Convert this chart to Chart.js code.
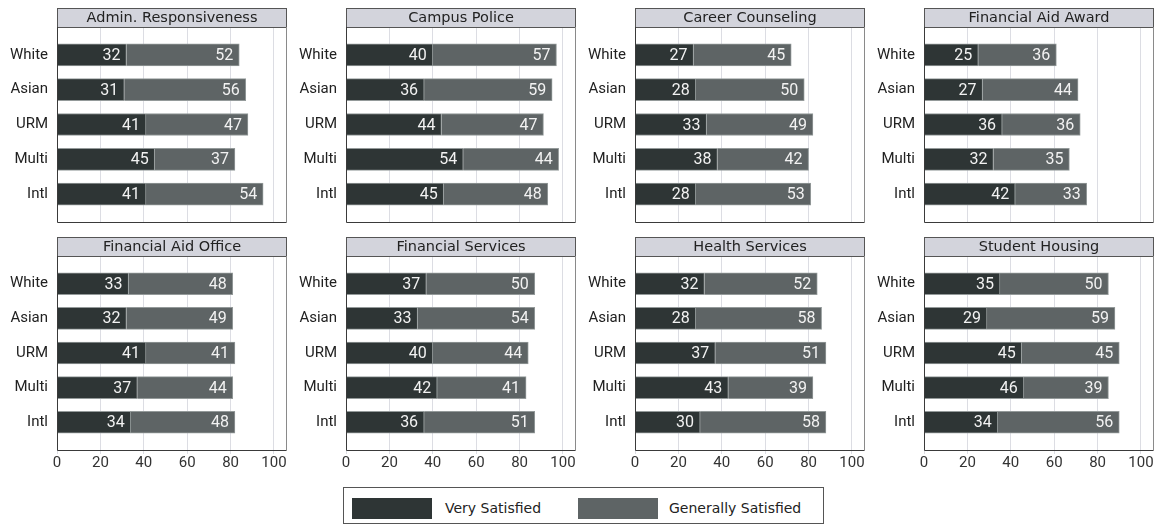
<!DOCTYPE html>
<html lang="en">

<head>
    <meta charset="UTF-8">
    <title>Satisfaction by Group</title>
    <script src="https://cdn.jsdelivr.net/npm/chart.js"></script>
    <style>
        body {
            margin: 0;
            background: white;
        }

        #page {
            position: relative;
            width: 1160px;
            height: 525px;
            overflow: hidden;
        }

        .panel {
            position: absolute;
        }

        .legend {
            position: absolute;
            left: 343px;
            top: 487px;
            width: 479px;
            height: 35px;
            border: 1px solid #555;
            font-family: 'DejaVu Sans', sans-serif;
            font-size: 14px;
            color: #222;
        }

        .legend .sw {
            position: absolute;
            top: 10px;
            width: 80px;
            height: 21px;
        }

        .legend .lbl {
            position: absolute;
            top: 10px;
            line-height: 21px;
        }
    </style>
</head>

<body>
    <div id="page">
        <div class="legend">
            <div class="sw" style="left: 8px; background: #2e3535;"></div>
            <div class="lbl" style="left: 101px;">Very Satisfied</div>
            <div class="sw" style="left: 234px; background: #5e6465;"></div>
            <div class="lbl" style="left: 325px;">Generally Satisfied</div>
        </div>
    </div>

    <script>
        const categories = ["White", "Asian", "URM", "Multi", "Intl"];
        const seriesNames = ["Very Satisfied", "Generally Satisfied"];
        const panelTitles = [
            "Admin. Responsiveness", "Campus Police", "Career Counseling", "Financial Aid Award",
            "Financial Aid Office", "Financial Services", "Health Services", "Student Housing"
        ];
        const verySatisfied = [
            [32, 31, 41, 45, 41],
            [40, 36, 44, 54, 45],
            [27, 28, 33, 38, 28],
            [25, 27, 36, 32, 42],
            [33, 32, 41, 37, 34],
            [37, 33, 40, 42, 36],
            [32, 28, 37, 43, 30],
            [35, 29, 45, 46, 34]
        ];
        const generallySatisfied = [
            [52, 56, 47, 37, 54],
            [57, 59, 47, 44, 48],
            [45, 50, 49, 42, 53],
            [36, 44, 36, 35, 33],
            [48, 49, 41, 44, 48],
            [50, 54, 44, 41, 51],
            [52, 58, 51, 39, 58],
            [50, 59, 45, 39, 56]
        ];
        const xTicks = [0, 20, 40, 60, 80, 100];

        const colors = ["#2e3535", "#5e6465"];
        const plotLefts = [57, 346, 635, 924];

        // title strip + frame around the plot area
        const panelFrame = {
            id: 'panelFrame',
            afterDraw(chart, args, opts) {
                const ctx = chart.ctx;
                const a = chart.chartArea;
                ctx.save();
                ctx.fillStyle = '#d3d4dc';
                ctx.fillRect(a.left, a.top - 19, a.right - a.left, 19);
                ctx.strokeStyle = '#555';
                ctx.lineWidth = 1;
                ctx.strokeRect(a.left + 0.5, a.top - 18.5, a.right - a.left - 1, 19);
                ctx.fillStyle = '#222';
                ctx.font = '14.5px "DejaVu Sans"';
                ctx.textAlign = 'center';
                ctx.textBaseline = 'middle';
                ctx.fillText(opts.text, (a.left + a.right) / 2, a.top - 9);

                ctx.beginPath();
                ctx.strokeStyle = '#3a3a3a';
                ctx.moveTo(a.left + 0.5, a.top);
                ctx.lineTo(a.left + 0.5, a.bottom + 0.5);
                ctx.lineTo(a.right, a.bottom + 0.5);
                ctx.stroke();
                ctx.beginPath();
                ctx.strokeStyle = '#8a8a8a';
                ctx.moveTo(a.right - 0.5, a.top);
                ctx.lineTo(a.right - 0.5, a.bottom + 1);
                ctx.stroke();
                ctx.restore();
            }
        };

        // numbers at the right end of each segment
        const valueLabels = {
            id: 'valueLabels',
            afterDatasetsDraw(chart) {
                const ctx = chart.ctx;
                ctx.save();
                ctx.font = '16px Roboto';
                ctx.fillStyle = '#f2f2f2';
                ctx.textAlign = 'right';
                ctx.textBaseline = 'middle';
                chart.data.datasets.forEach((ds, di) => {
                    chart.getDatasetMeta(di).data.forEach((bar, i) => {
                        ctx.fillText(ds.data[i], bar.x - 6, bar.y + 1);
                    });
                });
                ctx.restore();
            }
        };

        const page = document.getElementById('page');

        panelTitles.forEach((title, p) => {
            const col = p % 4;
            const row = Math.floor(p / 4);
            const bottomRow = row === 1;

            const wrap = document.createElement('div');
            wrap.className = 'panel';
            wrap.style.left = (plotLefts[col] - 57) + 'px';
            wrap.style.top = (bottomRow ? 230 : 0) + 'px';
            const canvas = document.createElement('canvas');
            canvas.width = 290;
            canvas.height = bottomRow ? 260 : 225;
            wrap.appendChild(canvas);
            page.appendChild(wrap);

            new Chart(canvas.getContext('2d'), {
                type: 'bar',
                data: {
                    labels: categories.map((c, i) => i),
                    datasets: [verySatisfied[p], generallySatisfied[p]].map((vals, s) => ({
                        label: seriesNames[s],
                        data: vals,
                        backgroundColor: colors[s],
                        borderColor: '#949a9a',
                        borderWidth: { top: 1, bottom: 1, right: 1, left: 0 },
                        borderSkipped: false,
                        barThickness: 22
                    }))
                },
                options: {
                    indexAxis: 'y',
                    responsive: false,
                    animation: false,
                    layout: {
                        padding: { left: 0, right: 3, top: bottomRow ? 26 : 27, bottom: bottomRow ? 10 : 3 }
                    },
                    plugins: {
                        legend: { display: false },
                        tooltip: { enabled: false },
                        panelFrame: { text: title }
                    },
                    scales: {
                        x: {
                            stacked: true,
                            min: 0,
                            max: 106,
                            afterFit: s => { s.height = bottomRow ? 30 : 0; },
                            afterBuildTicks: s => { s.ticks = xTicks.map(v => ({ value: v })); },
                            border: { display: false },
                            grid: {
                                color: '#dcdde3',
                                drawTicks: bottomRow,
                                tickLength: 4
                            },
                            ticks: {
                                display: bottomRow,
                                padding: 0,
                                color: '#333',
                                font: { family: 'Roboto', size: 15 }
                            }
                        },
                        y: {
                            type: 'linear',
                            stacked: true,
                            reverse: true,
                            offset: false,
                            bounds: 'data',
                            min: -0.8,
                            max: 4.8,
                            afterFit: s => {
                                s.width = 57;
                                s.paddingTop = 0;
                                s.paddingBottom = 0;
                            },
                            afterBuildTicks: s => { s.ticks = categories.map((c, i) => ({ value: i })); },
                            border: { display: false },
                            grid: { display: false, drawTicks: false, offset: false },
                            ticks: {
                                padding: 9,
                                color: '#222',
                                font: { family: 'Roboto', size: 15 },
                                callback: v => categories[v]
                            }
                        }
                    }
                },
                plugins: [panelFrame, valueLabels]
            });
        });
    </script>
</body>

</html>
